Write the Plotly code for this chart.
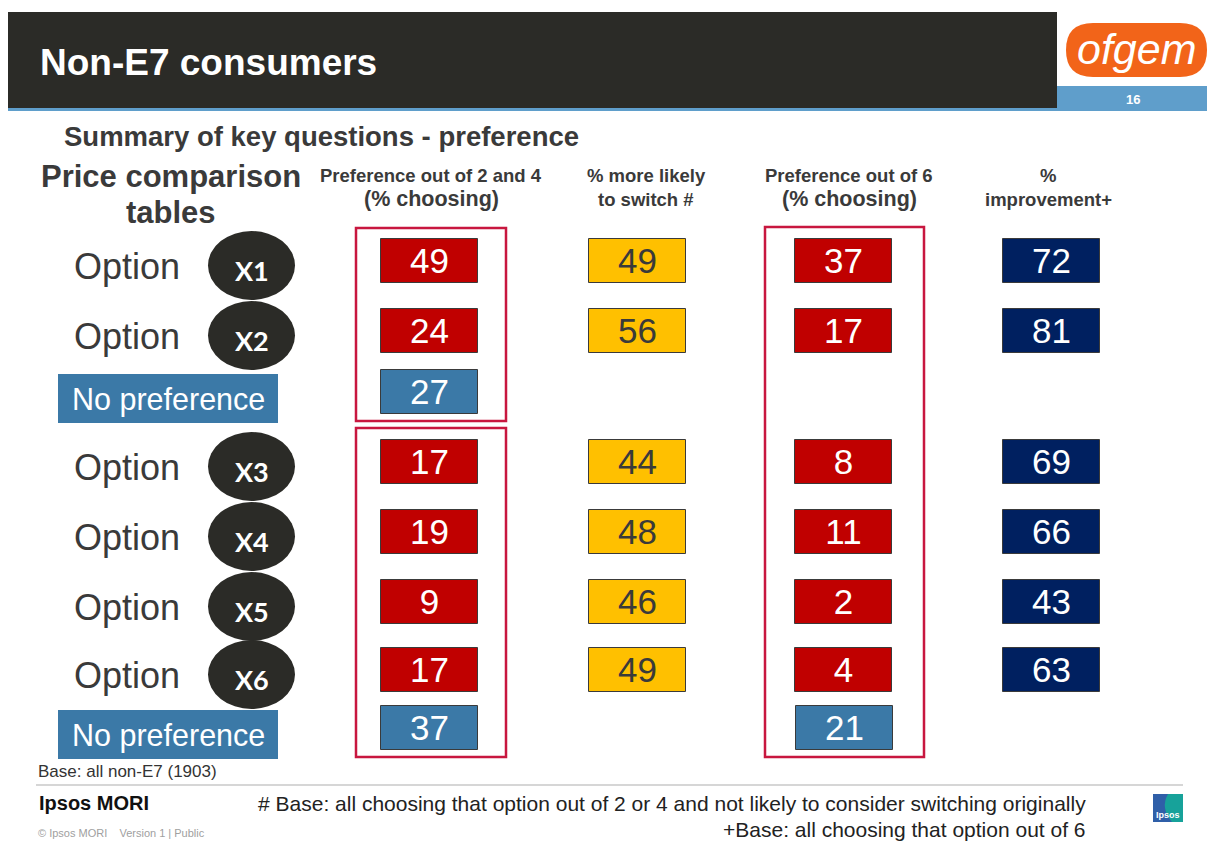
import plotly.graph_objects as go

# ---------------- data ----------------
option_labels = ["X1", "X2", "X3", "X4", "X5", "X6"]
pref_2_and_4 = [49, 24, 17, 19, 9, 17]
no_pref_2_and_4 = [27, 37]
more_likely_switch = [49, 56, 44, 48, 46, 49]
pref_out_of_6 = [37, 17, 8, 11, 2, 4]
no_pref_out_of_6 = [None, 21]
improvement = [72, 81, 69, 66, 43, 63]

column_headers = [
    ("Preference out of 2 and 4", "(% choosing)"),
    ("% more likely", "to switch #"),
    ("Preference out of 6", "(% choosing)"),
    ("%", "improvement+"),
]

# ---------------- layout constants (pixel-like canvas) ----------------
W, H = 1207, 841
col_x = [429.5, 637.5, 843.5, 1051.5]          # column centres
opt_y = [261, 331, 462, 532, 602, 670]          # option row centres
np_y = [392, 728]                               # "no preference" row centres
box_w, box_h = 97, 44

RED = "#C00000"
YEL = "#FFC000"
NAVY = "#002060"
NPBLUE = "#3B79A7"
FRAME = "#C8173F"
DARK = "#2B2B27"
TXT = "#3A3A3A"
FONT = "Liberation Sans, Arial, sans-serif"

fig = go.Figure()


def add_boxes(xc, ys, vals, fill, txtcol):
    xs = [xc for v in vals if v is not None]
    yy = [y for y, v in zip(ys, vals) if v is not None]
    vv = [v for v in vals if v is not None]
    fig.add_trace(go.Bar(
        x=xs, y=[box_h] * len(vv), base=[y - box_h / 2 for y in yy],
        width=box_w, marker=dict(color=fill, line=dict(color="#3a3a3a", width=1)),
        hoverinfo="skip", showlegend=False))
    fig.add_trace(go.Scatter(
        x=xs, y=[y + 3 for y in yy], mode="text", text=[str(v) for v in vv],
        textfont=dict(family=FONT, size=35, color=txtcol),
        hoverinfo="skip", showlegend=False))


add_boxes(col_x[0], opt_y, pref_2_and_4, RED, "white")
add_boxes(col_x[0], np_y, no_pref_2_and_4, NPBLUE, "white")
add_boxes(col_x[1], opt_y, more_likely_switch, YEL, TXT)
add_boxes(col_x[2], opt_y, pref_out_of_6, RED, "white")
add_boxes(col_x[2] + 1, np_y, no_pref_out_of_6, NPBLUE, "white")
add_boxes(col_x[3], opt_y, improvement, NAVY, "white")

shapes = []
# header bar
shapes.append(dict(type="rect", x0=8, x1=1057, y0=12, y1=109, fillcolor=DARK, line_width=0, layer="below"))
shapes.append(dict(type="rect", x0=8, x1=W, y0=108, y1=111, fillcolor="#5F9ECB", line_width=0, layer="below"))
shapes.append(dict(type="rect", x0=1057, x1=W, y0=86, y1=111, fillcolor="#5F9ECB", line_width=0, layer="below"))
# ofgem pill
shapes.append(dict(type="path",
                   path="M 1093,23 L 1180,23 Q 1207,23 1207,50 Q 1207,77 1180,77 L 1093,77 Q 1066,77 1066,50 Q 1066,23 1093,23 Z",
                   fillcolor="#F26419", line_width=0, layer="below"))
# frames
shapes.append(dict(type="rect", x0=356, x1=506, y0=228, y1=421, line=dict(color=FRAME, width=2.5)))
shapes.append(dict(type="rect", x0=356, x1=506, y0=428, y1=757, line=dict(color=FRAME, width=2.5)))
shapes.append(dict(type="rect", x0=765, x1=924, y0=227, y1=757, line=dict(color=FRAME, width=2.5)))
# ellipses for options
for yc in opt_y:
    shapes.append(dict(type="circle", x0=208, x1=295, y0=yc + 4.5 - 34.5, y1=yc + 4.5 + 34.5,
                       fillcolor=DARK, line_width=0, layer="below"))
# no preference label boxes
for yc in np_y:
    shapes.append(dict(type="rect", x0=58, x1=278, y0=yc - 18, y1=yc + 31,
                       fillcolor=NPBLUE, line_width=0, layer="below"))
# footer line
shapes.append(dict(type="line", x0=36, x1=1183, y0=785, y1=785, line=dict(color="#C8C8C8", width=1.5)))
# ipsos logo
shapes.append(dict(type="rect", x0=1153, x1=1183, y0=794, y1=822, fillcolor="#2F5FA8", line_width=0, layer="below"))
shapes.append(dict(type="path", path="M 1168,794 L 1183,794 L 1183,822 L 1172,822 Q 1160,808 1168,794 Z",
                   fillcolor="#17A29A", line_width=0, layer="below"))

ann = []


def txt(x, y, s, size, color=TXT, bold=False, xanchor="left", family=FONT, **kw):
    t = f"<b>{s}</b>" if bold else s
    ann.append(dict(x=x, y=y, xref="x", yref="y", text=t, showarrow=False,
                    xanchor=xanchor, yanchor="middle",
                    font=dict(family=family, size=size, color=color), **kw))


txt(38, 62, "Non-E7 consumers", 37, "white", True)
txt(1137, 49, "<i>ofgem</i>", 43, "white", False, "center")
txt(1133, 99, "16", 13, "white", True, "center")
txt(321, 136, "Summary of key questions - preference", 27.5, TXT, True, "center")
txt(171, 176, "Price comparison", 31, TXT, True, "center")
txt(171, 212, "tables", 31, TXT, True, "center")

hdr_x = [431, 646, 849, 1048]
for (l1, l2), hx in zip(column_headers, hdr_x):
    big = l2.startswith("(")
    txt(hx, 175, l1, 18.5, TXT, True, "center")
    txt(hx, 199, l2, 21.5 if big else 18.5, TXT, True, "center")

for lab, yc in zip(option_labels, opt_y):
    txt(72, yc + 5, "Option", 36, TXT, False)
    txt(251.5, yc + 9, lab, 27, "white", True, "center", family="Lato, sans-serif")
for yc in np_y:
    txt(168, yc + 7, "No preference", 30.5, "white", False, "center")

txt(36, 771, "Base: all non-E7 (1903)", 17, "#333333")
txt(37, 803, "Ipsos MORI", 20, "#111111", True)
txt(1088, 803, "# Base: all choosing that option out of 2 or 4 and not likely to consider switching originally", 21, "#222222", False, "right")
txt(1088, 829, "+Base: all choosing that option out of 6", 21, "#222222", False, "right")
txt(36, 833, "© Ipsos MORI    Version 1 | Public", 11, "#A0A0A0")
txt(1168, 815, "Ipsos", 9, "white", True, "center")

fig.update_layout(
    width=W, height=H,
    margin=dict(l=0, r=0, t=0, b=0),
    paper_bgcolor="white", plot_bgcolor="white",
    xaxis=dict(range=[0, W], visible=False, fixedrange=True),
    yaxis=dict(range=[H, 0], visible=False, fixedrange=True),
    shapes=shapes, annotations=ann, showlegend=False, barmode="overlay",
    bargap=0,
)

fig.write_html("out.html", config={"displayModeBar": False})

# remove the default page margin so the figure fills the window exactly
with open("out.html", "r", encoding="utf-8") as f:
    html = f.read()
html = html.replace("<head>", "<head><style>html,body{margin:0;padding:0;overflow:hidden;}</style>", 1)
with open("out.html", "w", encoding="utf-8") as f:
    f.write(html)
